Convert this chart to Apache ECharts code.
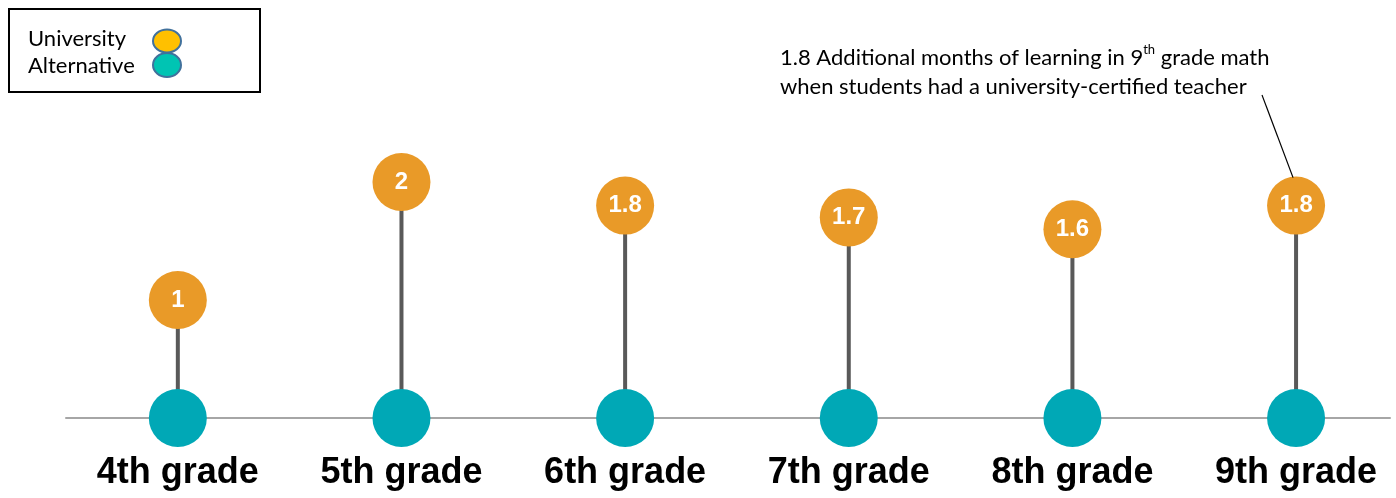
<!DOCTYPE html>
<html>
<head>
<meta charset="utf-8">
<script src="https://cdn.jsdelivr.net/npm/echarts@6/dist/echarts.min.js"></script>
<style>
  html, body { margin: 0; padding: 0; background: #fff; }
  #chart { width: 1396px; height: 498px; }
</style>
</head>
<body>
<div id="chart"></div>
<script>
// Months of additional learning by grade
const grades = ['4th grade', '5th grade', '6th grade', '7th grade', '8th grade', '9th grade'];
const universityValues = [1, 2, 1.8, 1.7, 1.6, 1.8];
const alternativeValues = [0, 0, 0, 0, 0, 0];
const gradeIndex = [0, 1, 2, 3, 4, 5];
const legendNames = ['University', 'Alternative'];

const ORANGE = '#E99A28';
const TEAL = '#00A8B6';
const STEM = '#595959';
const LEGEND_FILL = ['#FFC000', '#00C4B3'];
const LEGEND_STROKE = '#41719C';

const chart = echarts.init(document.getElementById('chart'), null, { renderer: 'canvas' });

const stemData = universityValues.map((v, i) => [gradeIndex[i], v]);
const uniData = universityValues.map((v, i) => [gradeIndex[i], v]);
const altData = alternativeValues.map((v, i) => [gradeIndex[i], v]);

chart.setOption({
  animation: false,
  backgroundColor: '#fff',
  grid: { left: 66, right: 6, top: 64, bottom: 80 },
  xAxis: {
    type: 'value',
    min: -0.5,
    max: 5.42,
    splitLine: { show: false },
    axisLine: { show: true, onZero: false, lineStyle: { color: '#A6A6A6', width: 2 } },
    axisTick: { show: false },
    axisLabel: {
      customValues: gradeIndex,
      formatter: v => grades[Math.round(v)] || '',
      margin: 37,
      color: '#000',
      fontFamily: '"Liberation Sans", Arial, sans-serif',
      fontWeight: 'bold',
      fontSize: 36
    }
  },
  yAxis: { type: 'value', min: 0, max: 3, show: false },
  series: [
    {
      name: 'stem',
      type: 'bar',
      data: stemData,
      barWidth: 4,
      itemStyle: { color: STEM },
      silent: true,
      z: 1
    },
    {
      name: legendNames[1],
      type: 'scatter',
      data: altData,
      symbolSize: 58,
      itemStyle: { color: TEAL, opacity: 1 },
      z: 3
    },
    {
      name: legendNames[0],
      type: 'scatter',
      data: uniData,
      symbolSize: 58,
      itemStyle: { color: ORANGE, opacity: 1 },
      label: {
        show: true,
        position: 'inside',
        formatter: p => String(p.value[1]),
        color: '#fff',
        fontFamily: '"Liberation Sans", Arial, sans-serif',
        fontWeight: 'bold',
        fontSize: 24
      },
      z: 3
    }
  ]
});

// Legend box and the callout for the 9th grade point
const target = chart.convertToPixel({ seriesIndex: 2 }, uniData[5]);
chart.setOption({
  graphic: [
    {
      type: 'rect',
      shape: { x: 9, y: 9, width: 251, height: 83 },
      style: { fill: '#fff', stroke: '#000', lineWidth: 2 },
      z: 5
    },
    {
      type: 'text',
      x: 28, y: 25,
      style: {
        text: legendNames[0] + '\n' + legendNames[1],
        fontFamily: 'Lato, sans-serif',
        fontSize: 22,
        lineHeight: 27,
        fill: '#000'
      },
      z: 6
    },
    {
      type: 'ellipse',
      shape: { cx: 167, cy: 65, rx: 14, ry: 12 },
      style: { fill: LEGEND_FILL[1], stroke: LEGEND_STROKE, lineWidth: 2 },
      z: 6
    },
    {
      type: 'ellipse',
      shape: { cx: 167, cy: 41, rx: 14, ry: 11.5 },
      style: { fill: LEGEND_FILL[0], stroke: LEGEND_STROKE, lineWidth: 2 },
      z: 7
    },
    {
      type: 'text',
      x: 780,
      y: 43,
      style: {
        text: '1.8 Additional months of learning in 9{sup|th} grade math\nwhen students had a university-certified teacher',
        fontFamily: 'Lato, sans-serif',
        fontSize: 22,
        lineHeight: 29,
        fill: '#000',
        rich: {
          sup: { fontSize: 13, verticalAlign: 'top', padding: [0, 0, 9, 0], fontFamily: 'Lato, sans-serif' }
        }
      }
    },
    {
      type: 'line',
      shape: { x1: 1262, y1: 95, x2: target[0] - 3, y2: target[1] - 28 },
      style: { stroke: '#000', lineWidth: 1.2 },
      z: 10
    }
  ]
});
</script>
</body>
</html>
